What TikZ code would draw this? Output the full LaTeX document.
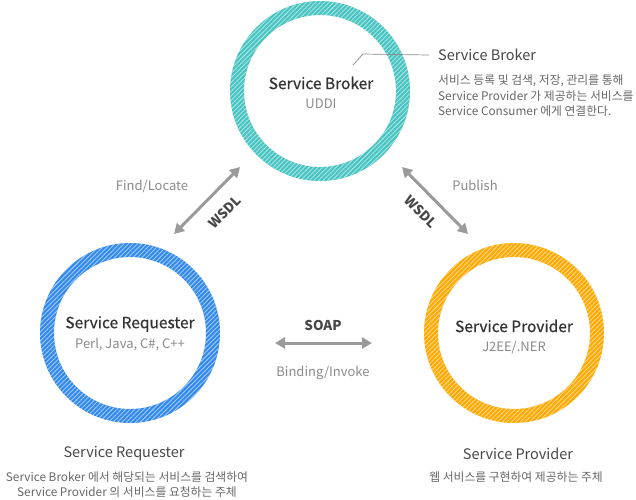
\documentclass[tikz,border=0pt]{standalone}
\usepackage{fontspec}
\setmainfont{Noto Sans CJK KR}
\newfontfamily\medfont[FakeBold=0.7]{Noto Sans CJK KR}
\usetikzlibrary{arrows.meta,patterns.meta}
\definecolor{cteal}{HTML}{45C4C1}
\definecolor{cblue}{HTML}{3189EE}
\definecolor{corange}{HTML}{FFA900}
\definecolor{titlec}{HTML}{333333}
\definecolor{subc}{HTML}{8A8A8A}
\definecolor{descc}{HTML}{666666}
\definecolor{arrc}{HTML}{9A9A9A}
\newcommand{\fsz}[2]{\fontsize{#1}{#2}\selectfont}
\begin{document}
\begin{tikzpicture}[x=1pt,y=-1pt,
  hub/.style={circle, minimum size=180pt, inner sep=0pt},
  ttl/.style={text=titlec, font=\medfont\fsz{15.5}{18}},
  subt/.style={text=subc, font=\fsz{13}{15}},
  lbl/.style={text=subc, font=\fsz{13}{16}},
  head/.style={text=titlec!90, font=\fsz{14.5}{18}},
  desc/.style={text=descc, font=\fsz{11.8}{15.5}, inner sep=0pt},
  proto/.style={text=titlec!90, font=\fsz{13.5}{16}\bfseries, inner sep=1pt},
  dbl/.style={draw=arrc, line width=3pt, {Triangle[length=10pt,width=11pt]}-{Triangle[length=10pt,width=11pt]}},
  lead/.style={draw=subc, line width=0.7pt}
]
\useasboundingbox (0,0) rectangle (636,499);
% hubs
\node[hub] (broker) at (320,91) {};
\node[hub] (req) at (130,333) {};
\node[hub] (prov) at (514,333) {};
\foreach \n/\c in {broker/cteal, req/cblue, prov/corange}{
  \fill[\c, even odd rule] (\n.center) circle[radius=90] circle[radius=76];
  \fill[pattern={Lines[angle=45,distance=3.2pt,line width=0.9pt]}, pattern color=white, opacity=0.55, even odd rule] (\n.center) circle[radius=90] circle[radius=76];
}
% titles inside
\node[ttl] (bt) at (321,83) {Service Broker};
\node[subt] (bs) at (321,104) {UDDI};
\node[ttl] (rt) at (130,324) {Service Requester};
\node[subt] (rs) at (130,345) {Perl, Java, C\#, C++};
\node[ttl] (pt) at (514,326) {Service Provider};
\node[subt] (ps) at (514,347) {J2EE/.NER};
% leader
\coordinate (l0) at (353,65);
\coordinate (l1) at (363,54);
\node[head, anchor=west, inner sep=0pt] (bh) at (438,55) {Service Broker};
\draw[lead] (l0) -- (l1) -- (bh.west -| 429,0);
\node[desc, anchor=west, align=left] (bd) at (438,96) {서비스 등록 및 검색, 저장, 관리를 통해\\Service Provider 가 제공하는 서비스를\\Service Consumer 에게 연결한다.};
% arrows
\coordinate (a1) at (174,234);
\coordinate (a2) at (240,167);
\draw[dbl] (a1) -- (a2);
\node[proto, rotate=45] (w1) at (225,212) {WSDL};
\node[lbl] (fl) at (152,186) {Find/Locate};
\coordinate (b1) at (402,167);
\coordinate (b2) at (468,234);
\draw[dbl] (b1) -- (b2);
\node[proto, rotate=-45] (w2) at (421,212) {WSDL};
\node[lbl] (pb) at (475,185) {Publish};
\coordinate (c1) at (275,343);
\coordinate (c2) at (372,343);
\draw[dbl] (c1) -- (c2);
\node[proto] (so) at (323,325) {SOAP};
\node[lbl] (bi) at (323,373) {Binding/Invoke};
% bottom descriptions
\node[head] (rh) at (124,454) {Service Requester};
\node[desc, align=center] (rd) at (127,484.5) {Service Broker 에서 해당되는 서비스를 검색하여\\Service Provider 의 서비스를 요청하는 주체};
\node[head] (ph) at (518,454) {Service Provider};
\node[desc] (pd) at (516,477) {웹 서비스를 구현하여 제공하는 주체};
\end{tikzpicture}
\end{document}
